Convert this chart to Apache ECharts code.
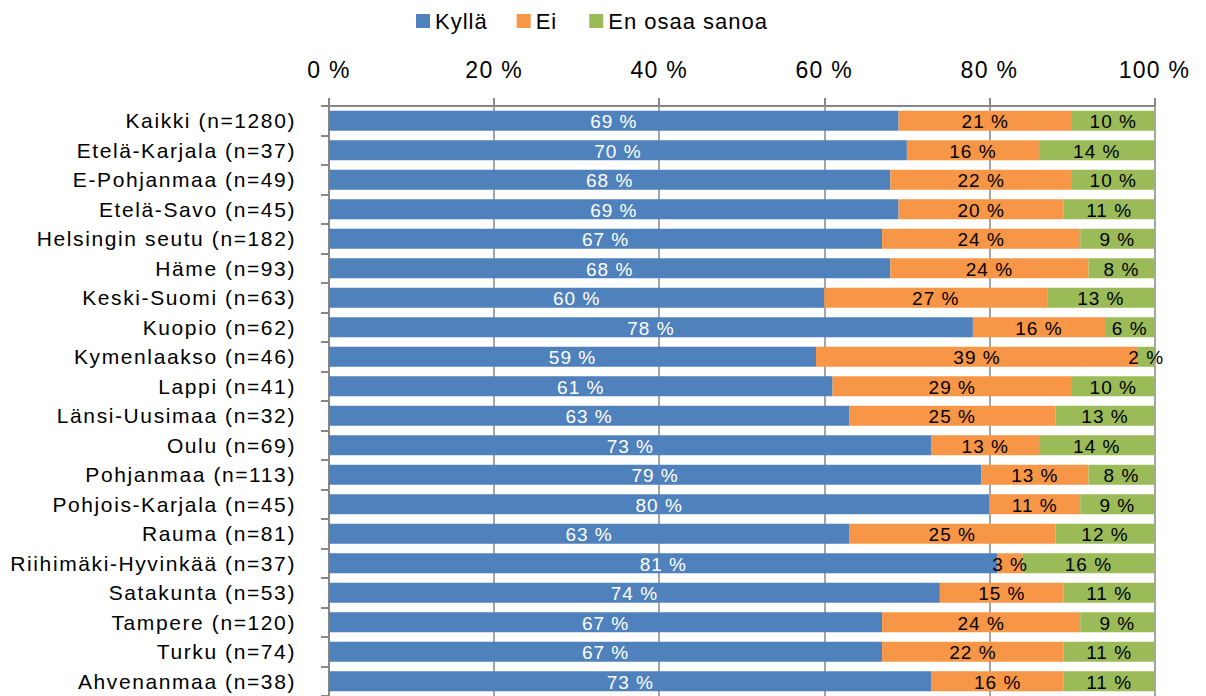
<!DOCTYPE html>
<html>
<head>
<meta charset="utf-8">
<style>
  html, body { margin: 0; padding: 0; background: #fff; }
  #chart { width: 1206px; height: 696px; }
  /* looser tracking for the chart texts, keyed by their font size */
  #chart text[style*="21px"] { letter-spacing: 1.6px; }
  #chart text[style*="23px"] { letter-spacing: 1.3px; }
  #chart text[style*="22px"] { letter-spacing: 1px; }
  #chart text[style*="19px"] { letter-spacing: 1px; }
</style>
<script src="https://cdn.jsdelivr.net/npm/echarts@6/dist/echarts.min.js"></script>
</head>
<body>
<div id="chart"></div>
<script>
// Regions and their respondent counts, top to bottom
const categories = [
  'Kaikki (n=1280)', 'Etelä-Karjala (n=37)', 'E-Pohjanmaa (n=49)', 'Etelä-Savo (n=45)',
  'Helsingin seutu (n=182)', 'Häme (n=93)', 'Keski-Suomi (n=63)', 'Kuopio (n=62)',
  'Kymenlaakso (n=46)', 'Lappi (n=41)', 'Länsi-Uusimaa (n=32)', 'Oulu (n=69)',
  'Pohjanmaa (n=113)', 'Pohjois-Karjala (n=45)', 'Rauma (n=81)', 'Riihimäki-Hyvinkää (n=37)',
  'Satakunta (n=53)', 'Tampere (n=120)', 'Turku (n=74)', 'Ahvenanmaa (n=38)'
];

// Answer shares, percent
const kylla = [69, 70, 68, 69, 67, 68, 60, 78, 59, 61, 63, 73, 79, 80, 63, 81, 74, 67, 67, 73];
const ei    = [21, 16, 22, 20, 24, 24, 27, 16, 39, 29, 25, 13, 13, 11, 25, 3, 15, 24, 22, 16];
const eos   = [10, 14, 10, 11, 9, 8, 13, 6, 2, 10, 13, 14, 8, 9, 12, 16, 11, 9, 11, 11];

const seriesNames = ['Kyllä', 'Ei', 'En osaa sanoa'];
const axisTicks = [0, 20, 40, 60, 80, 100];

const FONT = '"Liberation Sans", Arial, sans-serif';
const GRAY = '#878787';

function barSeries(name, data, color, labelColor) {
  return {
    name: name,
    type: 'bar',
    stack: 'total',
    barWidth: 20,
    data: data,
    itemStyle: { color: color },
    label: {
      show: true,
      position: 'inside',
      offset: [0, 1],
      formatter: p => p.value + ' %',
      color: labelColor,
      fontFamily: FONT,
      fontSize: 19
    },
    emphasis: { disabled: true }
  };
}

const chart = echarts.init(document.getElementById('chart'), null, { renderer: 'svg' });
chart.setOption({
  animation: false,
  backgroundColor: '#fff',
  legend: {
    data: seriesNames,
    left: 411,
    top: 5,
    icon: 'rect',
    itemWidth: 14,
    itemHeight: 14,
    itemGap: 34,
    textStyle: { fontFamily: FONT, fontSize: 22, color: '#000' }
  },
  grid: { left: 329, right: 51.5, top: 106, bottom: -1, containLabel: false },
  xAxis: {
    type: 'value',
    position: 'top',
    min: axisTicks[0],
    max: axisTicks[axisTicks.length - 1],
    interval: axisTicks[1] - axisTicks[0],
    axisLine: { show: true, lineStyle: { color: GRAY, width: 2 } },
    axisTick: { show: true, length: 8, lineStyle: { color: GRAY, width: 2 } },
    splitLine: { show: true, lineStyle: { color: GRAY, width: 1.5 } },
    axisLabel: {
      formatter: '{value} %',
      fontFamily: FONT,
      fontSize: 23,
      color: '#000',
      margin: 25
    }
  },
  yAxis: {
    type: 'category',
    inverse: true,
    data: categories,
    axisLine: { show: true, lineStyle: { color: GRAY, width: 2 } },
    axisTick: { show: true, length: 8, lineStyle: { color: GRAY, width: 2 } },
    axisLabel: {
      fontFamily: FONT,
      fontSize: 21,
      color: '#000',
      margin: 33
    }
  },
  series: [
    barSeries(seriesNames[0], kylla, '#4F81BD', '#ffffff'),
    barSeries(seriesNames[1], ei, '#F79646', '#000000'),
    barSeries(seriesNames[2], eos, '#9BBB59', '#000000')
  ]
});
</script>
</body>
</html>
